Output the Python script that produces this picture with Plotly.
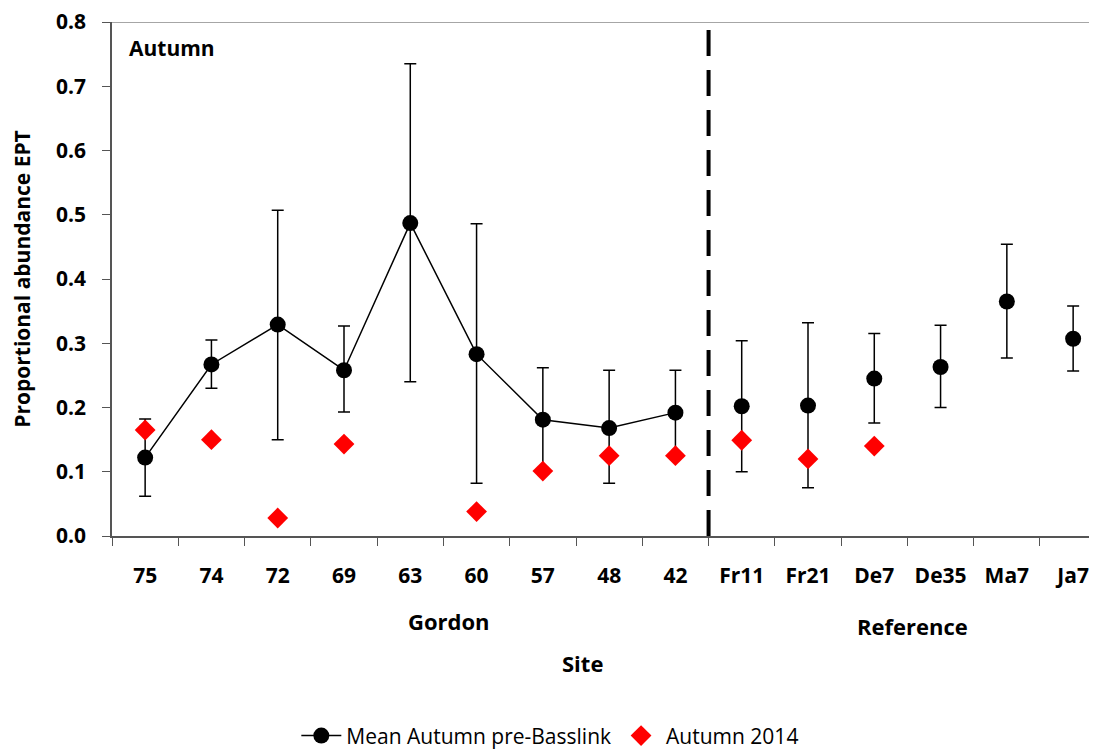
import plotly.graph_objects as go

# Sites (Gordon river sites then reference sites)
sites = ['75', '74', '72', '69', '63', '60', '57', '48', '42',
         'Fr11', 'Fr21', 'De7', 'De35', 'Ma7', 'Ja7']
gordon_sites = sites[:9]
reference_sites = sites[9:]

# Mean Autumn pre-Basslink and error bar limits
mean_pre = [0.122, 0.267, 0.329, 0.258, 0.487, 0.283, 0.181, 0.168, 0.192,
            0.202, 0.203, 0.245, 0.263, 0.365, 0.307]
upper_pre = [0.182, 0.305, 0.507, 0.327, 0.735, 0.486, 0.262, 0.258, 0.258,
             0.304, 0.332, 0.315, 0.328, 0.454, 0.358]
lower_pre = [0.062, 0.230, 0.150, 0.193, 0.240, 0.082, 0.100, 0.082, 0.127,
             0.100, 0.075, 0.176, 0.200, 0.277, 0.257]

# Autumn 2014
autumn_2014 = [0.165, 0.150, 0.028, 0.143, None, 0.038, 0.101, 0.125, 0.125,
               0.149, 0.120, 0.140, None, None, None]

err_plus = [u - m for u, m in zip(upper_pre, mean_pre)]
err_minus = [m - l for m, l in zip(mean_pre, lower_pre)]

font_main = 'Open Sans'

fig = go.Figure()

# Gordon sites: connected line
fig.add_trace(go.Scatter(
    x=gordon_sites, y=mean_pre[:9],
    mode='lines+markers',
    name='Mean Autumn pre-Basslink',
    legendgroup='pre',
    line=dict(color='black', width=1.5),
    marker=dict(color='black', size=16, symbol='circle'),
    error_y=dict(type='data', symmetric=False, array=err_plus[:9],
                 arrayminus=err_minus[:9], color='black', thickness=1.5, width=6)
))

# Reference sites: markers only
fig.add_trace(go.Scatter(
    x=reference_sites, y=mean_pre[9:],
    mode='markers',
    name='Mean Autumn pre-Basslink',
    legendgroup='pre',
    showlegend=False,
    marker=dict(color='black', size=16, symbol='circle'),
    error_y=dict(type='data', symmetric=False, array=err_plus[9:],
                 arrayminus=err_minus[9:], color='black', thickness=1.5, width=6)
))

fig.add_trace(go.Scatter(
    x=sites, y=autumn_2014,
    mode='markers',
    name='Autumn 2014',
    marker=dict(color='#ff0000', size=16, symbol='diamond')
))

# Top border line and dashed separator
fig.add_shape(type='line', xref='paper', yref='y', x0=0, x1=1, y0=0.8, y1=0.8,
              line=dict(color='#888888', width=1.5))
fig.add_shape(type='line', xref='x', yref='y', x0=8.5, x1=8.5, y0=0, y1=0.8,
              line=dict(color='black', width=4, dash='26px,14px'))

fig.add_annotation(text='<b>Autumn</b>', xref='paper', yref='paper', x=0.015, y=0.949,
                   xanchor='left', yanchor='middle', showarrow=False,
                   font=dict(size=21, family=font_main, color='black'))
fig.add_annotation(text='<b>Gordon</b>', xref='x', yref='paper', x=4.58, y=-0.165,
                   xanchor='center', yanchor='middle', showarrow=False,
                   font=dict(size=22, family=font_main, color='black'))
fig.add_annotation(text='<b>Reference</b>', xref='x', yref='paper', x=11.58, y=-0.175,
                   xanchor='center', yanchor='middle', showarrow=False,
                   font=dict(size=22, family=font_main, color='black'))
fig.add_annotation(text='<b>Site</b>', xref='x', yref='paper', x=6.6, y=-0.247,
                   xanchor='center', yanchor='middle', showarrow=False,
                   font=dict(size=22, family=font_main, color='black'))

fig.update_layout(
    width=1089, height=746,
    margin=dict(l=104, r=0, t=14, b=218, autoexpand=False),
    plot_bgcolor='white', paper_bgcolor='white',
    font=dict(family=font_main, color='black', size=21),
    showlegend=True,
    legend=dict(orientation='h', x=0.445, y=-0.389, xanchor='center', yanchor='middle',
                font=dict(size=21, family=font_main), itemwidth=40),
    xaxis=dict(
        type='category', categoryorder='array', categoryarray=sites,
        range=[-0.5, 14.36],
        showline=True, linecolor='#555555', linewidth=1.5,
        ticks='outside', tickson='boundaries', ticklen=8, tickcolor='#555555',
        showgrid=False, zeroline=False,
        tickfont=dict(size=21, family=font_main, weight='bold'),
        ticklabelstandoff=20,
    ),
    yaxis=dict(
        range=[0, 0.8], dtick=0.1, tickformat='.1f',
        showline=True, linecolor='#555555', linewidth=1.5,
        ticks='outside', ticklen=8, tickcolor='#555555',
        showgrid=False, zeroline=False,
        tickfont=dict(size=21, family=font_main, weight='bold'),
        ticklabelstandoff=12, ticklabeloverflow='allow',
        title=dict(text='<b>Proportional abundance EPT</b>', font=dict(size=21), standoff=20),
    ),
)

fig.write_html("out.html")
